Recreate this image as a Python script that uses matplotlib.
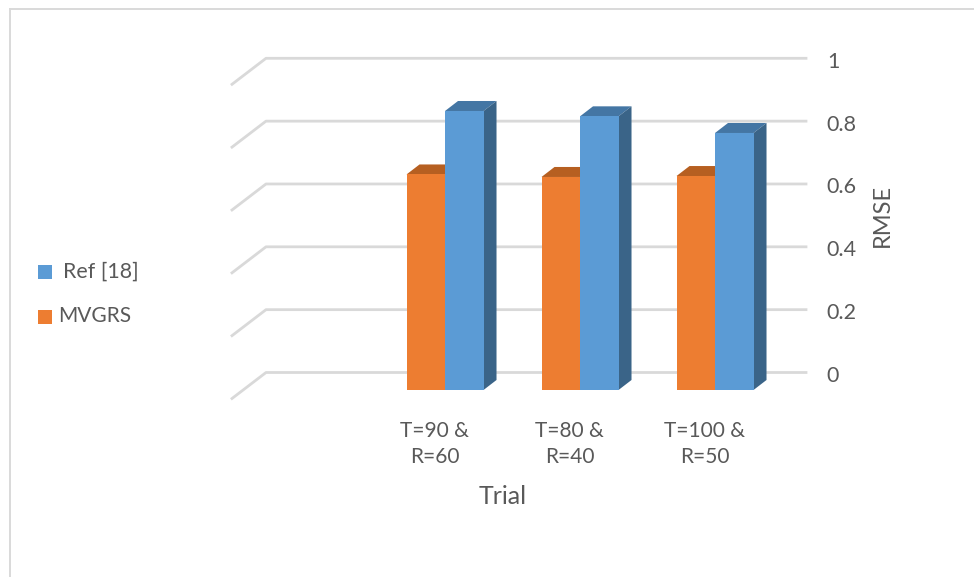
import matplotlib
matplotlib.use('AGG')
from matplotlib import pyplot as plt
from matplotlib.lines import Line2D
from matplotlib.patches import Polygon, Rectangle
from matplotlib.transforms import ScaledTranslation
import numpy as np

trials = ['T=90 &\nR=60', 'T=80 &\nR=40', 'T=100 &\nR=50']
mvgrs = [0.686, 0.678, 0.681]
ref18 = [0.888, 0.871, 0.818]
ticks = [0, 0.2, 0.4, 0.6, 0.8, 1]
tick_labels = ['0', '0.2', '0.4', '0.6', '0.8', '1']

W, H = 974, 577
GRID = '#d9d9d9'
TEXT = '#595959'
plt.rcParams['font.family'] = ['Lato', 'DejaVu Sans']

fig = plt.figure(figsize=(W / 100, H / 100), dpi=100)

# outer chart frame, only left and top show
fig.add_artist(Line2D([9.5 / W, 9.5 / W], [0, 1 - 8.5 / H], color=GRID, lw=1.4))
fig.add_artist(Line2D([9.5 / W, 1], [1 - 8.5 / H, 1 - 8.5 / H], color=GRID, lw=1.4))

# back wall of the 3D plot: 266..806 px across, value 0 at 372.5, value 1 at 58.3
ax = fig.add_axes([266 / W, 1 - 372.5 / H, 540 / W, 314.2 / H])
ax.set_xlim(-1.326, 2.674)
ax.set_ylim(0, 1)
for s in ax.spines.values():
    s.set_visible(False)
ax.patch.set_alpha(0)

bar_w = 38.5 / 135
# depth of the box in data units
dep_x = 13 / 135
dep_y = 10 / 314.2
front_drop = 17.5 / 314.2
wing_x = 34 / 135
wing_y = 26 / 314.2


def draw_bar(x0, val, face, top, side):
    y0 = -front_drop
    y1 = y0 + val
    x1 = x0 + bar_w
    ax.add_patch(Polygon([(x0, y1), (x1, y1), (x1 + dep_x, y1 + dep_y), (x0 + dep_x, y1 + dep_y)],
                         fc=top, ec='none', clip_on=False, zorder=3))
    ax.add_patch(Polygon([(x1, y0), (x1 + dep_x, y0 + dep_y), (x1 + dep_x, y1 + dep_y), (x1, y1)],
                         fc=side, ec='none', clip_on=False, zorder=3))
    ax.add_patch(Rectangle((x0, y0), bar_w, val, fc=face, ec='none', clip_on=False, zorder=4))


for t in ticks:
    ax.plot([-1.326 - wing_x, -1.326, 2.674], [t - wing_y, t, t], color=GRID, lw=2,
            clip_on=False, solid_joinstyle='round', zorder=1)

xs = np.arange(len(trials))
for i in xs:
    draw_bar(i - bar_w, mvgrs[i], '#ed7d31', '#b65f21', '#a85820')
    draw_bar(i, ref18[i], '#5b9bd5', '#4476a4', '#3a6488')

# value axis sits on the right of the wall
ax.set_xticks([])
ax.yaxis.tick_right()
ax.set_yticks(ticks)
ax.set_yticklabels(tick_labels, fontsize=15.5, color=TEXT)
ax.tick_params(axis='y', length=0, pad=15)
for lab in ax.get_yticklabels():
    lab.set_transform(lab.get_transform() + ScaledTranslation(0, -1.5 / 100, fig.dpi_scale_trans))

# category labels under the bars
for i, lab in zip(xs, trials):
    ax.annotate(lab, (i - 0.078, -front_drop), xytext=(0, -22), textcoords='offset points',
                ha='center', va='top', fontsize=15, color=TEXT, linespacing=1.43,
                annotation_clip=False)

fig.text(502.5 / W, 1 - 497 / H, 'Trial', ha='center', va='center', fontsize=18, color=TEXT)
fig.text(882 / W, 1 - 215 / H, 'RMSE', ha='center', va='center', rotation=90, fontsize=17, color=TEXT)

# legend
fig.add_artist(Rectangle((38 / W, 1 - 279 / H), 14 / W, 14 / H, fc='#5b9bd5', ec='none', transform=fig.transFigure))
fig.add_artist(Rectangle((38 / W, 1 - 324 / H), 14 / W, 14 / H, fc='#ed7d31', ec='none', transform=fig.transFigure))
fig.text(63 / W, 1 - 272 / H, 'Ref [18]', ha='left', va='center', fontsize=15.4, color=TEXT)
fig.text(58 / W, 1 - 316 / H, 'MVGRS', ha='left', va='center', fontsize=15, color=TEXT)

fig.savefig('out.png', dpi=100)
